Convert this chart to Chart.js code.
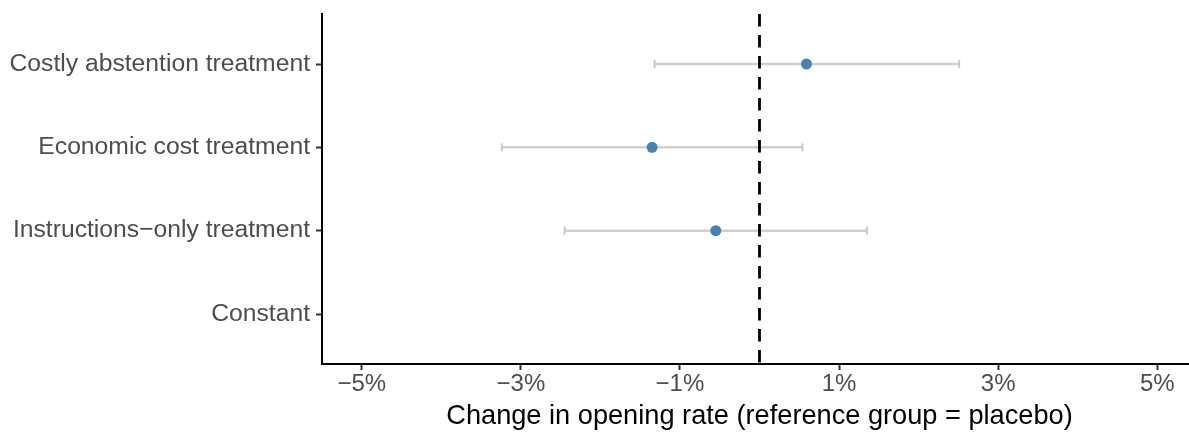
<!DOCTYPE html>
<html><head><meta charset="utf-8">
<script src="https://cdn.jsdelivr.net/npm/chart.js@4"></script>
<style>html,body{margin:0;padding:0;background:#fff;overflow:hidden}#wrap{width:1189px;height:432px;overflow:hidden}canvas{display:block}</style>
</head><body><div id="wrap"><canvas id="c" width="1203" height="432"></canvas></div>
<script>
const categories = ["Costly abstention treatment", "Economic cost treatment", "Instructions\u2212only treatment", "Constant"];
const estimates = [0.59, -1.35, -0.55, null];
const lowerCI = [-1.32, -3.24, -2.45, null];
const upperCI = [2.51, 0.54, 1.35, null];
const xTickValues = [-5, -3, -1, 1, 3, 5];
const xTickLabels = ["\u22125%", "\u22123%", "\u22121%", "1%", "3%", "5%"];
const referenceValue = 0;
const xMin = -5.5, xMax = 5.5;
const yMin = 0.4, yMax = 4.6;

const FONT = "'Liberation Sans', Arial, Helvetica, sans-serif";

const datasets = [];
datasets.push({
  type: 'scatter',
  data: categories.map((c, i) => estimates[i] == null ? null : ({x: estimates[i], y: i + 1})).filter(d => d),
  backgroundColor: '#4682B4',
  borderColor: '#4682B4',
  pointRadius: 5.5,
  pointHoverRadius: 5.5,
  borderWidth: 0,
  order: 0
});
datasets.push({
  type: 'line',
  data: [{x: referenceValue, y: yMin}, {x: referenceValue, y: yMax}],
  borderColor: '#000',
  borderWidth: 2.8,
  borderDash: [12.5, 8.5],
  pointRadius: 0,
  fill: false,
  order: 1
});
categories.forEach((c, i) => {
  if (lowerCI[i] == null) return;
  datasets.push({
    type: 'line',
    data: [{x: lowerCI[i], y: i + 1}, {x: upperCI[i], y: i + 1}],
    borderColor: '#d0d0d0',
    borderWidth: 2.5,
    pointStyle: 'line',
    rotation: 90,
    pointRadius: 4,
    pointBorderWidth: 2,
    pointBorderColor: '#c8c8c8',
    pointBackgroundColor: '#c8c8c8',
    fill: false,
    order: 2
  });
});

function zeroPad(s) { s.paddingLeft = 0; s.paddingRight = 0; s.paddingTop = 0; s.paddingBottom = 0; }

new Chart(document.getElementById('c'), {
  type: 'scatter',
  data: { datasets },
  options: {
    responsive: false,
    devicePixelRatio: 1,
    animation: false,
    layout: { padding: { top: 14, right: 0, left: 0, bottom: 0 } },
    plugins: { legend: { display: false }, tooltip: { enabled: false } },
    scales: {
      x: {
        type: 'linear',
        min: xMin, max: xMax,
        afterBuildTicks: s => { s.ticks = xTickValues.map(v => ({ value: v })); },
        afterFit: s => { s.height = 68; zeroPad(s); },
        grid: { drawOnChartArea: false, drawTicks: true, tickLength: 6, tickColor: '#333', tickWidth: 2 },
        border: { display: true, color: '#000', width: 2 },
        ticks: {
          autoSkip: false, maxRotation: 0, padding: 0,
          color: '#4d4d4d',
          font: { family: FONT, size: 24 },
          callback: v => xTickLabels[xTickValues.indexOf(v)]
        },
        title: {
          display: true,
          text: 'Change in opening rate (reference group = placebo)',
          color: '#000',
          font: { family: FONT, size: 27.2 },
          padding: { top: 0, bottom: -1 }
        }
      },
      y: {
        type: 'linear',
        reverse: true,
        min: yMin, max: yMax,
        afterBuildTicks: s => { s.ticks = categories.map((c, i) => ({ value: i + 1 })); },
        afterFit: s => { s.width = 322; zeroPad(s); },
        grid: { drawOnChartArea: false, drawTicks: true, tickLength: 6, tickColor: '#333', tickWidth: 2 },
        border: { display: true, color: '#000', width: 2 },
        ticks: {
          autoSkip: false, padding: 6,
          color: '#4d4d4d',
          font: { family: FONT, size: 24.7 },
          callback: v => categories[v - 1]
        }
      }
    }
  }
});
</script>
</body></html>
